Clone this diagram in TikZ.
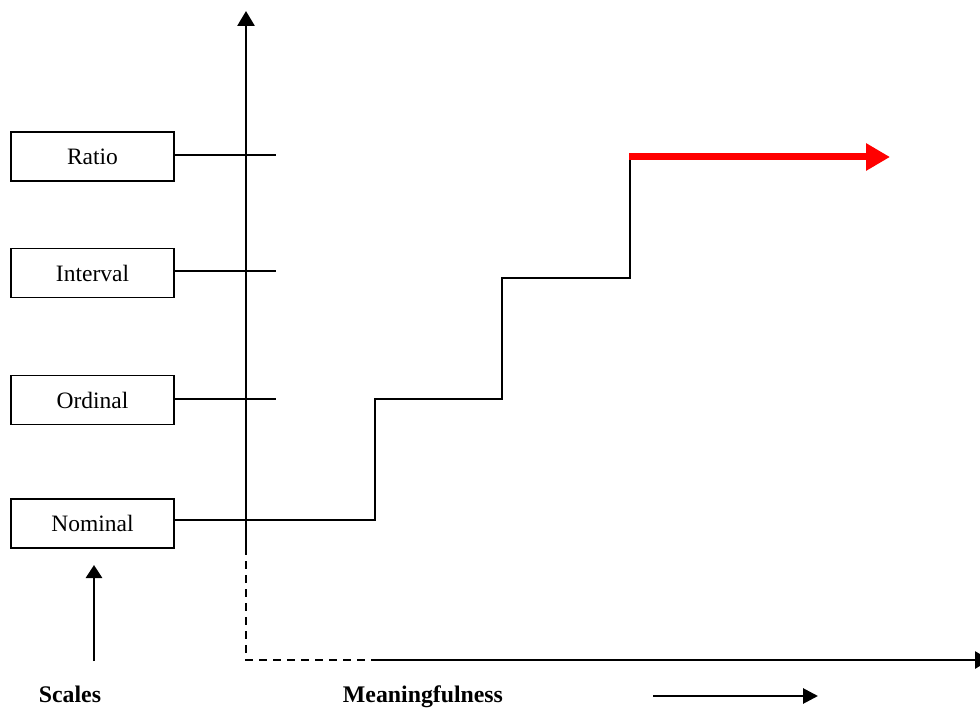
\documentclass[tikz,border=0pt]{standalone}
\usepackage{fontspec}
\setmainfont{Liberation Serif}
\usetikzlibrary{arrows.meta}
\begin{document}
\begin{tikzpicture}[x=1pt,y=-1pt,
  scalebox/.style={draw,line width=1.8pt,minimum width=163pt,minimum height=49pt,inner sep=0pt,font=\fontsize{23.5}{27}\selectfont},
  thin line/.style={line width=1.8pt},
  axis/.style={line width=2.8pt},
  lbl/.style={font=\fontsize{23.8}{27}\selectfont\bfseries,anchor=base,inner sep=0pt}]
\useasboundingbox (0,0) rectangle (980,708);
\node[scalebox] (ratio) at (92.5,156.5) {Ratio};
\node[scalebox] (interval) at (92.5,273) {Interval};
\node[scalebox] (ordinal) at (92.5,400) {Ordinal};
\node[scalebox] (nominal) at (92.5,523.5) {Nominal};
% vertical axis
\coordinate (atop) at (246,11);
\coordinate (abot) at (246,547);
\coordinate (corner) at (246,660);
\coordinate (hsolid) at (378,660);
\coordinate (hend) at (990,660);
\draw[axis,-{Triangle[length=15pt,width=17pt]}] (abot) -- (atop);
\draw[thin line,dash pattern=on 8pt off 6pt] (abot) -- (corner) -- (hsolid);
\draw[axis,-{Triangle[length=15pt,width=17pt]}] (hsolid) -- (hend);
% ticks
\coordinate (t1) at (276,155);
\coordinate (t2) at (276,271);
\coordinate (t3) at (276,399);
\draw[thin line] (ratio.east|-t1) -- (t1);
\draw[thin line] (interval.east|-t2) -- (t2);
\draw[thin line] (ordinal.east|-t3) -- (t3);
% staircase
\coordinate (s1) at (375,520);
\coordinate (s2) at (375,399);
\coordinate (s3) at (502,399);
\coordinate (s4) at (502,278);
\coordinate (s5) at (630,278);
\coordinate (s6) at (630,157);
\coordinate (rend) at (890,157);
\draw[thin line] (nominal.east|-s1) -- (s1) -- (s2) -- (s3) -- (s4) -- (s5) -- (s6);
\draw[line width=7pt,red,-{Triangle[length=24pt,width=26pt]}] (629,157) -- (rend);
% labels
\node[lbl] (scales) at (70,702) {Scales};
\node[lbl] (meaning) at (423,702) {Meaningfulness};
\coordinate (sa) at (94,661);
\coordinate (sb) at (94,565);
\draw[axis,-{Triangle[length=13pt,width=16pt]}] (sa) -- (sb);
\coordinate (ma) at (653,696);
\coordinate (mb) at (818,696);
\draw[axis,-{Triangle[length=15pt,width=15pt]}] (ma) -- (mb);
\end{tikzpicture}
\end{document}
